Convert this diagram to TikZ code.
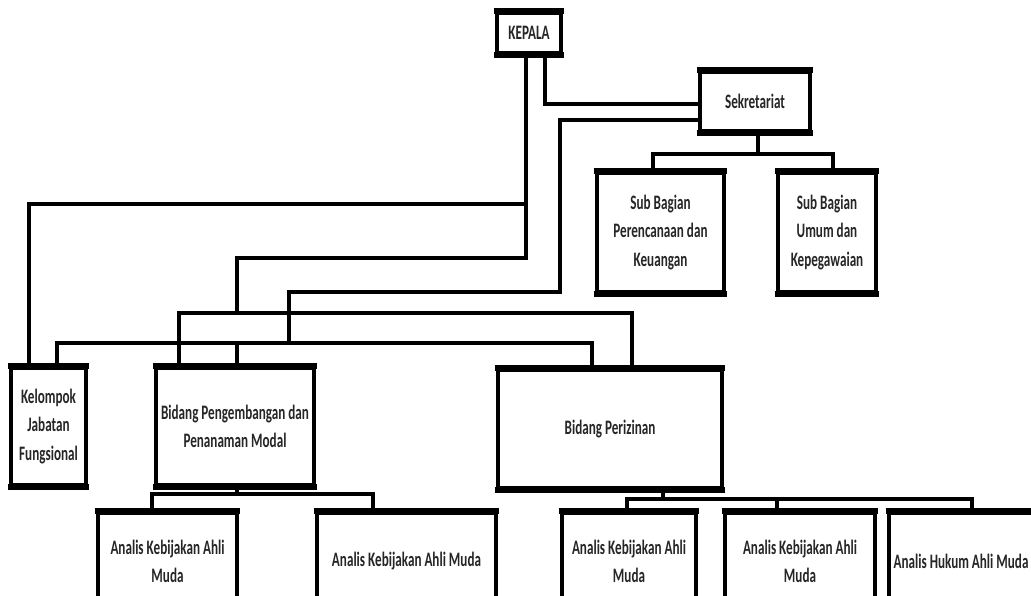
\documentclass[tikz,border=0pt]{standalone}
\usepackage{fontspec}
\setmainfont{Carlito}[FakeStretch=0.64]
\usetikzlibrary{positioning}

\begin{document}
\begin{tikzpicture}[x=0.025cm,y=-0.025cm,
    unit/.style={draw=black,line width=2.4pt,fill=white,align=center,
                 text=black!85,font=\fontsize{14.6}{20}\selectfont\bfseries,
                 inner sep=0pt},
    edge/.style={black,line width=4.4pt,shorten <=-1.2pt,shorten >=-1.2pt},
    link/.style={black,line width=2.6pt}]
    \useasboundingbox (0,0) rectangle (1031,595);
    \clip (0,0) rectangle (1031,595);

    \node[unit,minimum width=1.6cm,minimum height=1cm] (kepala) at (529,33) {KEPALA};
    \node[unit,minimum width=2.75cm,minimum height=1.475cm] (sekr) at (755,101.5) {Sekretariat};
    \node[unit,minimum width=3.175cm,minimum height=2.975cm] (sbp) at (660.5,232.5) {Sub Bagian\\Perencanaan dan\\Keuangan};
    \node[unit,minimum width=2.45cm,minimum height=2.975cm] (sbu) at (827,232.5) {Sub Bagian\\Umum dan\\Kepegawaian};

    \node[unit,minimum width=1.875cm,minimum height=2.925cm] (kjf) at (48.5,426.5) {Kelompok\\Jabatan\\Fungsional};
    \node[unit,minimum width=3.95cm,minimum height=2.925cm] (bpp) at (235,426.5) {Bidang Pengembangan dan\\Penanaman Modal};
    \node[unit,minimum width=5.6cm,minimum height=2.95cm] (bpz) at (610,429) {Bidang Perizinan};

    \node[unit,minimum width=3.475cm,minimum height=2.4cm] (a1) at (167.5,561) {Analis Kebijakan Ahli\\Muda};
    \node[unit,minimum width=4.475cm,minimum height=2.4cm] (a2) at (406.5,561) {Analis Kebijakan Ahli Muda};
    \node[unit,minimum width=3.35cm,minimum height=2.4cm] (a3) at (629,561) {Analis Kebijakan Ahli\\Muda};
    \node[unit,minimum width=3.75cm,minimum height=2.4cm] (a4) at (800,561) {Analis Kebijakan Ahli\\Muda};
    \node[unit,minimum width=3.6cm,minimum height=2.4cm] (a5) at (961,561) {Analis Hukum Ahli Muda};

    \foreach \n in {kepala,sekr,sbp,sbu,kjf,bpp,bpz,a1,a2,a3,a4,a5}{
      \draw[edge] (\n.north west) -- (\n.north east);
      \draw[edge] (\n.south west) -- (\n.south east);
    }

    \draw[link] (kepala.south -| 526,0) |- (237,258) -- (237,313);
    \draw[link] (526,204) -| (kjf.north -| 29,0);
    \draw[link] (bpp.north -| 179,0) -- (179,313) -| (bpz.north -| 632,0);
    \draw[link] (kepala.south -| 545,0) |- (sekr.west |- 0,104);

    \draw[link] (sekr.west |- 0,120) -| (560,292) -| (289,343);
    \draw[link] (kjf.north -| 57,0) -- (57,343) -| (bpz.north -| 592,0);
    \draw[link] (237,343) -- (bpp.north -| 237,0);

    \draw[link] (sbp.north -| 653,0) |- (758,154) -| (sbu.north -| 833,0);
    \draw[link] (758,154) -- (sekr.south -| 758,0);

    \draw[link] (a1.north -| 152,0) |- (237,494) -| (a2.north -| 373,0);
    \draw[link] (237,494) -- (bpp.south -| 237,0);

    \draw[link] (a3.north -| 627,0) |- (663,499) -| (a5.north -| 972,0);
    \draw[link] (663,499) -- (bpz.south -| 663,0);
    \draw[link] (777,499) -- (a4.north -| 777,0);
  \end{tikzpicture}
\end{document}
